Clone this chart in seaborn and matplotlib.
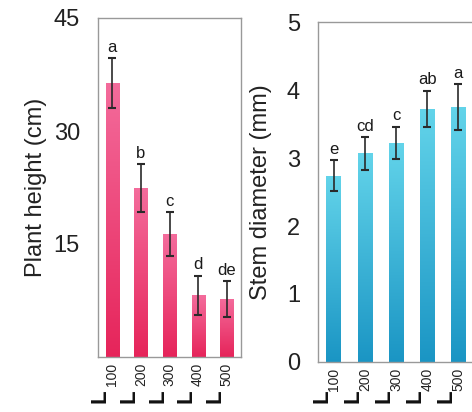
import numpy as np
import pandas as pd
import matplotlib
matplotlib.use("Agg")
import matplotlib.pyplot as plt
import matplotlib.colors as mcolors
import matplotlib.transforms as mtransforms
import seaborn as sns

categories = ["100", "200", "300", "400", "500"]
height_mean = [36.4, 22.4, 16.3, 8.2, 7.7]
height_err = [3.3, 3.2, 2.9, 2.6, 2.4]
height_letters = ["a", "b", "c", "d", "de"]
stem_mean = [2.74, 3.07, 3.22, 3.72, 3.75]
stem_err = [0.23, 0.24, 0.24, 0.27, 0.34]
stem_letters = ["e", "cd", "c", "ab", "a"]
unit_mark = "L"

sns.set_theme(style="white")
plt.rcParams['font.family'] = ['Liberation Sans', 'DejaVu Sans']

fig = plt.figure(figsize=(4.72, 4.12), dpi=100)
W, H = 472, 412

def add_ax(x0, y0, x1, y1):
    return fig.add_axes([x0 / W, 1 - y1 / H, (x1 - x0) / W, (y1 - y0) / H])

ax1 = add_ax(98, 18, 241, 357)
ax2 = add_ax(318, 22, 474, 362)

def gradient_bars(ax, top, bottom):
    cmap = mcolors.LinearSegmentedColormap.from_list("g", [bottom, top])
    grad = np.linspace(0, 1, 256).reshape(-1, 1)
    for p in ax.patches:
        x, y = p.get_x(), p.get_y()
        w, h = p.get_width(), p.get_height()
        im = ax.imshow(grad, cmap=cmap, aspect="auto", origin="lower",
                       extent=[x, x + w, y, y + h], zorder=p.get_zorder())
        im.set_clip_path(p)

def panel(ax, means, errs, letters, ylim, ticks, ylabel, top, bottom, labelpad):
    df = pd.DataFrame({"cat": categories, "val": means})
    sns.barplot(data=df, x="cat", y="val", ax=ax, color=bottom, width=0.46,
                errorbar=None, saturation=1)
    gradient_bars(ax, top, bottom)
    xs = np.arange(len(categories))
    ax.errorbar(xs, means, yerr=errs, fmt="none", ecolor="#2a2a2a",
                elinewidth=1.2, capsize=3.2, capthick=1.5, zorder=5)
    for x, m, e, l in zip(xs, means, errs, letters):
        ax.annotate(l, (x, m + e), xytext=(0, 4.5), textcoords="offset points",
                    ha="center", va="baseline", fontsize=12, color="#1a1a1a")
    ax.set_xlim(-0.5, 4.5)
    ax.set_ylim(*ylim)
    ax.set_yticks(ticks)
    ax.set_yticklabels([str(t) for t in ticks], fontsize=17, color="#222222")
    ax.set_xticks(xs)
    ax.set_xticklabels(categories, rotation=90, fontsize=10, color="#222222")
    ax.set_xlabel("")
    ax.set_ylabel(ylabel, fontsize=17, color="#222222", labelpad=labelpad)
    for s in ax.spines.values():
        s.set_color("#999999")
        s.set_linewidth(1.0)
    ax.tick_params(axis="y", direction="in", length=4, color="#999999", pad=13)
    ax.tick_params(axis="x", length=0, pad=4)
    # unit marks below each tick label
    blend = mtransforms.blended_transform_factory(ax.transData, fig.transFigure)
    for x in xs:
        tr = mtransforms.offset_copy(blend, fig=fig, x=-1.5, y=0, units="dots")
        ax.text(x, 1 - 396 / H, unit_mark, transform=tr, rotation=90,
                ha="right", va="center", fontsize=16, fontweight="bold",
                color="#111111", clip_on=False)

panel(ax1, height_mean, height_err, height_letters, (0, 45), [15, 30, 45],
      "Plant height (cm)", "#f46c9c", "#e6245a", 5)
panel(ax2, stem_mean, stem_err, stem_letters, (0, 5), [0, 1, 2, 3, 4, 5],
      "Stem diameter (mm)", "#63d4ea", "#1a95c4", 11)

fig.savefig("out.png", dpi=100)
